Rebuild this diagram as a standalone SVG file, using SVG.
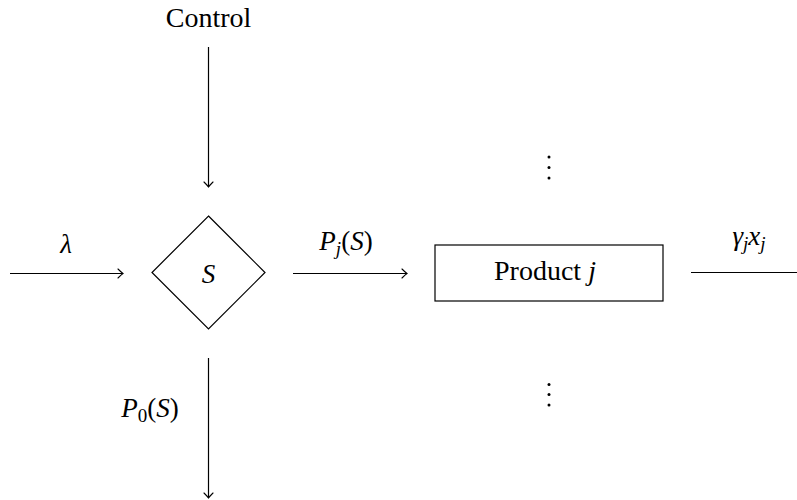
<svg xmlns="http://www.w3.org/2000/svg" width="797" height="500" viewBox="0 0 797 500">
<style>
.ln{stroke:#000;stroke-width:1.2;fill:none}
</style>
<defs>
<marker id="to" markerUnits="userSpaceOnUse" markerWidth="12" markerHeight="12" viewBox="-8 -6 10 12" refX="0" refY="0" orient="auto">
<path d="M-5,-4.5 Q-1.5,-1 0,0 Q-1.5,1 -5,4.5" stroke="#000" stroke-width="1.1" fill="none" stroke-linecap="round"/>
</marker>
</defs>
<rect width="797" height="500" fill="#fff"/>
<g id="connectors">
<line class="ln" x1="10" y1="273.5" x2="123" y2="273.5" marker-end="url(#to)"/>
<line class="ln" x1="208.5" y1="47" x2="208.5" y2="187" marker-end="url(#to)"/>
<line class="ln" x1="293" y1="273.5" x2="407" y2="273.5" marker-end="url(#to)"/>
<line class="ln" x1="208.5" y1="358" x2="208.5" y2="498" marker-end="url(#to)"/>
<line class="ln" x1="691" y1="272.5" x2="797" y2="272.5"/>
<text x="66" y="253" text-anchor="middle" font-family="Liberation Serif, serif" font-size="27" font-style="italic">λ</text>
<text x="346" y="250" text-anchor="middle" font-family="Liberation Serif, serif" font-size="27"><tspan font-style="italic">P</tspan><tspan font-style="italic" font-size="19" dy="5">j</tspan><tspan dy="-5">(</tspan><tspan font-style="italic">S</tspan>)</text>
<text x="150" y="417" text-anchor="middle" font-family="Liberation Serif, serif" font-size="27"><tspan font-style="italic">P</tspan><tspan font-size="19" dy="5">0</tspan><tspan dy="-5">(</tspan><tspan font-style="italic">S</tspan>)</text>
<text x="749" y="245" text-anchor="middle" font-family="Liberation Serif, serif" font-size="27" font-style="italic">γ<tspan font-size="19" dy="5">j</tspan><tspan dy="-5">x</tspan><tspan font-size="19" dy="5">j</tspan></text>
</g>
<g id="control">
<text x="208.5" y="27" text-anchor="middle" font-family="Liberation Serif, serif" font-size="28">Control</text>
</g>
<g id="S">
<polygon class="ln" points="208.5,216 265,272.5 208.5,329 152,272.5"/>
<text x="208.5" y="283" text-anchor="middle" font-family="Liberation Serif, serif" font-size="27" font-style="italic">S</text>
</g>
<g id="product">
<rect class="ln" x="435" y="245" width="228" height="56"/>
<text x="545" y="280" text-anchor="middle" font-family="Liberation Serif, serif" font-size="28">Product <tspan font-style="italic">j</tspan></text>
</g>
<g id="dots-top" fill="#000">
<circle cx="549" cy="157" r="1.5"/><circle cx="549" cy="167.5" r="1.5"/><circle cx="549" cy="178" r="1.5"/>
</g>
<g id="dots-bottom" fill="#000">
<circle cx="549" cy="384.5" r="1.5"/><circle cx="549" cy="394.5" r="1.5"/><circle cx="549" cy="405" r="1.5"/>
</g>
</svg>
